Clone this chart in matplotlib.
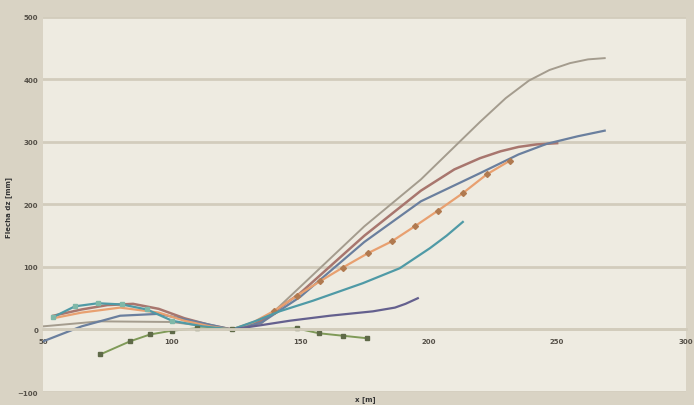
import matplotlib
matplotlib.use("Agg")
import matplotlib.pyplot as plt

# deflection profiles along the span, x in m, dz in mm
grey_x = [50, 72, 100, 123.5, 135, 150, 175, 197, 210, 220, 230, 239, 247,
          255, 262, 268.5]
grey_y = [5, 13, 12, 0, 10, 68, 165, 240, 292, 332, 370, 398, 415, 426, 432,
          434]

red_x = [54, 65, 75, 85, 95, 105, 115, 123.5, 135, 150, 175, 197, 210, 220,
         228, 235, 242, 250]
red_y = [22, 32, 39, 41, 33, 18, 7, 0, 14, 58, 150, 222, 256, 274, 285, 292,
         296, 298]

slate_x = [50, 65, 80, 95, 110, 123.5, 135, 150, 175, 197, 220, 235, 246,
           258, 268.5]
slate_y = [-19, 5, 22, 25, 12, 0, 11, 52, 140, 205, 250, 280, 297, 309, 318]

orange_x = [54, 65, 80, 95, 105, 115, 123.5, 132, 140, 148.8, 157.7, 166.6,
            176.4, 185.7, 194.6, 203.6, 213.3, 222.6, 231.6]
orange_y = [18, 27, 35, 27, 14, 5, 0, 12, 30, 54, 77, 99, 122, 141, 165, 190,
            218, 248, 270]

teal_x = [54, 62.4, 71.4, 80.7, 90.4, 100.2, 112, 123.5, 133, 142, 155, 174.4,
          188.8, 200.5, 207, 213.3]
teal_y = [20, 37, 42, 40, 32, 14, 5, 0, 14, 29, 46, 74, 98, 130, 150, 172]

purple_x = [123.5, 135, 146, 161.6, 178.3, 186.9, 191, 195.8]
purple_y = [0, 7, 14, 22, 29, 35, 41, 50]

green_x = [72.2, 83.8, 91.6, 100, 110, 123.5, 148.8, 157.3, 166.6, 176]
green_y = [-40, -19, -8, -2, 2, 0, 1.6, -6, -10, -14]

fig = plt.figure(figsize=(6.94, 4.06), dpi=100, facecolor="#d9d3c4")
ax = fig.add_axes([0.062, 0.032, 0.926, 0.924])
ax.set_facecolor("#eeebe1")

ax.plot(grey_x, grey_y, color="#a49c8e", lw=1.4)
ax.plot(red_x, red_y, color="#a8766e", lw=1.8)
ax.plot(slate_x, slate_y, color="#6a7f9e", lw=1.6)
ax.plot(orange_x, orange_y, color="#e8a070", lw=1.6, marker="D", ms=3,
        mfc="#b07a50", mec="#b07a50", markevery=list(range(8, 19)))
ax.plot(teal_x, teal_y, color="#4f9aa6", lw=1.6, marker="s", ms=3,
        mfc="#7fb8a8", mec="#7fb8a8", markevery=[0, 1, 2, 3, 4, 5])
ax.plot(purple_x, purple_y, color="#64608e", lw=1.6)
ax.plot(green_x, green_y, color="#7f9a58", lw=1.4, marker="s", ms=3,
        mfc="#5f6a48", mec="#5f6a48")

ax.set_xlim(50, 300)
ax.set_ylim(-100, 500)
ax.set_yticks(range(-100, 501, 100))
ax.set_xticks(range(50, 301, 50))
ax.yaxis.grid(True, color="#d2ccbc", lw=2)
ax.set_axisbelow(True)

for side in ("top", "right", "left"):
    ax.spines[side].set_visible(False)
ax.spines["bottom"].set_position(("data", 0))
ax.spines["bottom"].set_color("#d2ccbc")
ax.spines["bottom"].set_linewidth(2)

ax.tick_params(axis="both", length=0, labelsize=5, labelcolor="#555048")
ax.tick_params(axis="x", pad=6)
for lbl in ax.get_xticklabels() + ax.get_yticklabels():
    lbl.set_fontweight("bold")

fig.text(0.013, 0.49, "Flecha dz [mm]", fontsize=5, fontweight="bold",
         color="#333", rotation=90, ha="center", va="center")
fig.text(0.527, 0.012, "x [m]", fontsize=5, fontweight="bold", color="#333",
         ha="center")

fig.savefig("out.png", dpi=100, facecolor=fig.get_facecolor())
